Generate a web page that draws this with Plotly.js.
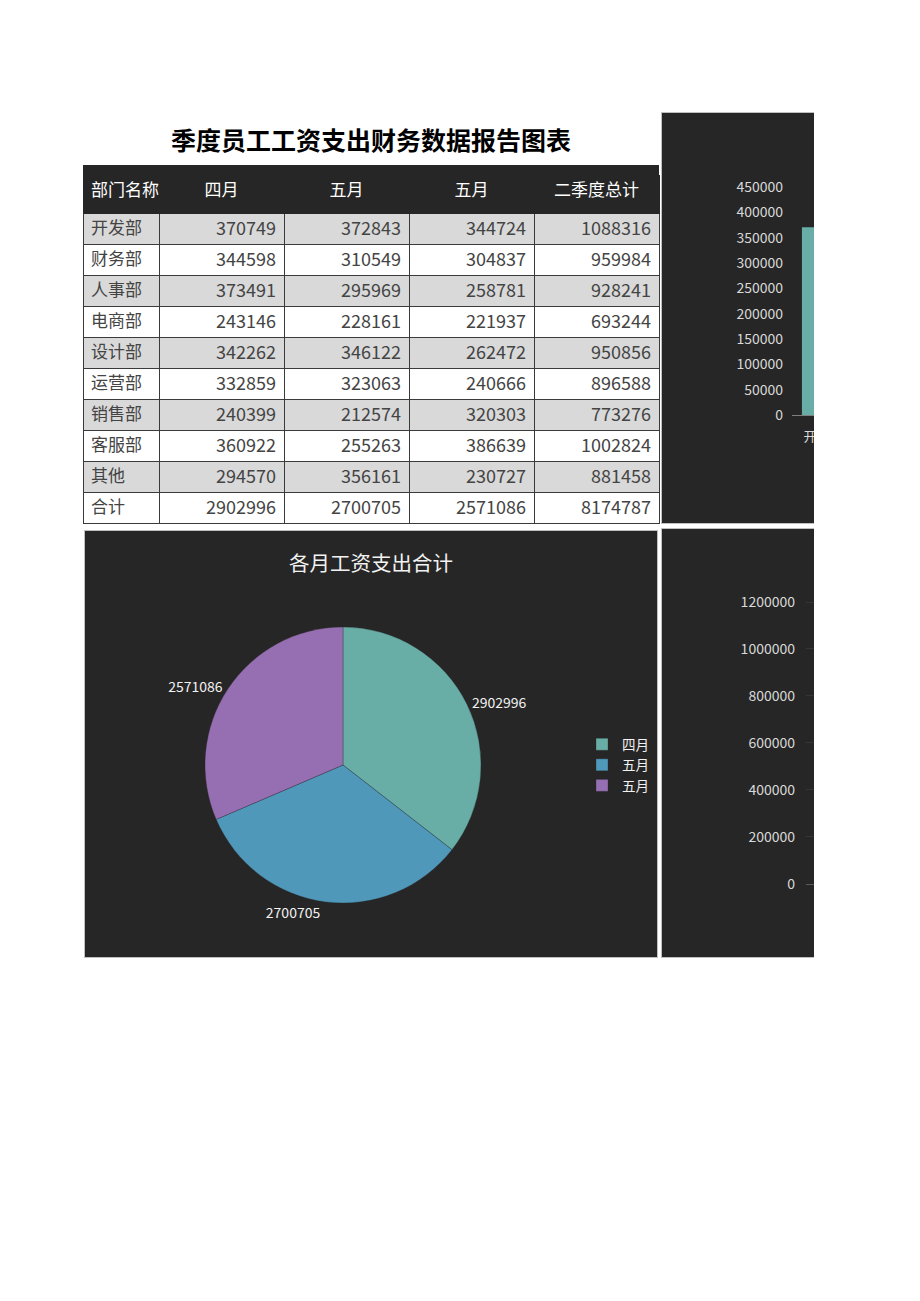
<!DOCTYPE html>
<html>
<head>
<meta charset="utf-8">
<script src="https://cdn.plot.ly/plotly-3.0.1.min.js"></script>
<style>
  html, body { margin: 0; padding: 0; background: #ffffff; }
  #chart { width: 920px; height: 1301px; }
</style>
</head>
<body>
<div id="chart"></div>
<script>
// ---------- data ----------
var departments = ['开发部', '财务部', '人事部', '电商部', '设计部', '运营部', '销售部', '客服部', '其他'];
var totalLabel = '合计';
var headerLabels = ['部门名称', '四月', '五月', '五月', '二季度总计'];
var monthNames = ['四月', '五月', '五月'];
var aprilValues = [370749, 344598, 373491, 243146, 342262, 332859, 240399, 360922, 294570];
var may1Values  = [372843, 310549, 295969, 228161, 346122, 323063, 212574, 255263, 356161];
var may2Values  = [344724, 304837, 258781, 221937, 262472, 240666, 320303, 386639, 230727];
var quarterTotals = [1088316, 959984, 928241, 693244, 950856, 896588, 773276, 1002824, 881458];
var monthTotals = [2902996, 2700705, 2571086];
var grandTotal = 8174787;

var mainTitle = '季度员工工资支出财务数据报告图表';
var pieTitle = '各月工资支出合计';

// ---------- helpers ----------
var W = 920, H = 1301;
function fx(p) { return p / W; }
function fy(p) { return 1 - p / H; }

var FONT = '"Noto Sans CJK SC", "Noto Sans", sans-serif';
var teal = '#69aea6', blue = '#4f98ba', purple = '#966eb2';
var panel = '#262626';
var tickColor = '#d9d9d9';

// ---------- table ----------
var rowCount = departments.length + 1;
var rowFill = [];
for (var i = 0; i < rowCount; i++) rowFill.push(i % 2 === 0 ? '#d9d9d9' : '#ffffff');
var fillCols = [rowFill, rowFill, rowFill, rowFill, rowFill];

var tableTrace = {
  type: 'table',
  domain: { x: [fx(83), fx(659)], y: [fy(524), fy(175)] },
  columnwidth: [76, 125, 125, 125, 125],
  header: {
    values: headerLabels,
    height: 38,
    align: ['left', 'center', 'center', 'center', 'center'],
    fill: { color: panel },
    line: { color: panel, width: 1 },
    font: { family: FONT, size: 17, color: '#ffffff' }
  },
  cells: {
    values: [
      departments.concat([totalLabel]),
      aprilValues.concat([monthTotals[0]]),
      may1Values.concat([monthTotals[1]]),
      may2Values.concat([monthTotals[2]]),
      quarterTotals.concat([grandTotal])
    ],
    height: 31,
    align: ['left', 'right', 'right', 'right', 'right'],
    fill: { color: fillCols },
    line: { color: '#3a3a3a', width: 1 },
    font: { family: FONT, size: [17, 18, 18, 18, 18], color: '#444444' },
    format: ['', 'd', 'd', 'd', 'd']
  }
};

// ---------- bar chart 1 (monthly by department) ----------
var barA = { type: 'bar', name: monthNames[0], x: departments, y: aprilValues, marker: { color: teal }, xaxis: 'x', yaxis: 'y', showlegend: false, hoverinfo: 'skip' };
var barB = { type: 'bar', name: monthNames[1], x: departments, y: may1Values, marker: { color: blue }, xaxis: 'x', yaxis: 'y', showlegend: false, hoverinfo: 'skip' };
var barC = { type: 'bar', name: monthNames[2], x: departments, y: may2Values, marker: { color: purple }, xaxis: 'x', yaxis: 'y', showlegend: false, hoverinfo: 'skip' };

// ---------- bar chart 2 (quarter totals) ----------
var barQ = { type: 'bar', name: headerLabels[4], x: departments, y: quarterTotals, marker: { color: teal }, xaxis: 'x2', yaxis: 'y2', showlegend: false, hoverinfo: 'skip' };

// ---------- pie ----------
var pieLabels = monthNames.map(function (m, i) { return m + ' '.repeat(i); });
var pieTrace = {
  type: 'pie',
  labels: pieLabels,
  values: monthTotals,
  text: monthTotals.map(function (v) { return String(v); }),
  textinfo: 'text',
  textposition: 'outside',
  outsidetextfont: { family: FONT, size: 14, color: '#f2f2f2' },
  sort: false,
  direction: 'clockwise',
  rotation: 0,
  marker: { colors: [teal, blue, purple], line: { color: 'rgba(38,38,38,0.5)', width: 0.6 } },
  domain: { x: [fx(205), fx(481)], y: [fy(903), fy(627)] },
  hoverinfo: 'skip',
  showlegend: true
};

// category width = 62px
var catW = 62;
var layout = {
  width: W, height: H,
  margin: { l: 0, r: 0, t: 0, b: 0, pad: 0 },
  paper_bgcolor: '#ffffff',
  plot_bgcolor: 'rgba(0,0,0,0)',
  font: { family: FONT },
  barmode: 'group',
  bargap: 0.32,
  bargroupgap: 0,
  xaxis: {
    domain: [fx(792), 1], anchor: 'y', type: 'category',
    range: [-0.5, (W - 792) / catW - 0.5],
    showline: true, linecolor: '#808080', linewidth: 1,
    showgrid: false, zeroline: false, ticks: '',
    ticklabelstandoff: 9,
    tickfont: { family: FONT, size: 13, color: tickColor }, fixedrange: true
  },
  yaxis: {
    domain: [fy(415), fy(415 - 452000 / 50000 * 25.333)], anchor: 'x',
    range: [0, 452000], dtick: 50000, tick0: 0, tickformat: 'd',
    showline: false, showgrid: false, zeroline: false, ticks: '',
    ticklabelstandoff: 8,
    tickfont: { family: FONT, size: 14, color: tickColor }, fixedrange: true
  },
  xaxis2: {
    domain: [fx(806), 1], anchor: 'y2', type: 'category',
    range: [-0.5, (W - 806) / catW - 0.5],
    showline: true, linecolor: '#5a5a5a', linewidth: 1,
    showgrid: false, zeroline: false, ticks: '',
    tickfont: { family: FONT, size: 13, color: tickColor }, fixedrange: true
  },
  yaxis2: {
    domain: [fy(884), fy(884 - 1205000 / 200000 * 47)], anchor: 'x2',
    range: [0, 1205000], dtick: 200000, tick0: 0, tickformat: 'd',
    showline: false, showgrid: true, gridcolor: '#363636', gridwidth: 1, zeroline: false, ticks: '',
    ticklabelstandoff: 10,
    tickfont: { family: FONT, size: 14, color: tickColor }, fixedrange: true
  },
  legend: {
    x: fx(582), y: fy(729), xanchor: 'left', yanchor: 'top',
    bgcolor: 'rgba(0,0,0,0)', borderwidth: 0,
    font: { family: FONT, size: 13.5, color: '#f2f2f2' },
    itemwidth: 30, traceorder: 'normal'
  },
  shapes: [
    // dark panels
    { type: 'rect', xref: 'paper', yref: 'paper', layer: 'below', x0: fx(661.5), x1: fx(930), y0: fy(523.5), y1: fy(112.5), fillcolor: panel, line: { color: '#bfbfbf', width: 1 } },
    { type: 'rect', xref: 'paper', yref: 'paper', layer: 'below', x0: fx(661.5), x1: fx(930), y0: fy(957.5), y1: fy(528.5), fillcolor: panel, line: { color: '#bfbfbf', width: 1 } },
    { type: 'rect', xref: 'paper', yref: 'paper', layer: 'below', x0: fx(84.5), x1: fx(657.5), y0: fy(957.5), y1: fy(530.5), fillcolor: panel, line: { color: '#bfbfbf', width: 1 } },
    // header top strip
    { type: 'rect', xref: 'paper', yref: 'paper', layer: 'below', x0: fx(83), x1: fx(659), y0: fy(176), y1: fy(165), fillcolor: panel, line: { width: 0 } },
    // page cut on the right
    { type: 'rect', xref: 'paper', yref: 'paper', layer: 'above', x0: fx(814), x1: fx(925), y0: -0.01, y1: 1.01, fillcolor: '#ffffff', line: { width: 0 } }
  ],
  annotations: [
    { text: '<b>' + mainTitle + '</b>', xref: 'paper', yref: 'paper', x: fx(371), y: fy(139), xanchor: 'center', yanchor: 'middle', showarrow: false, font: { family: FONT, size: 25, color: '#000000' } },
    { text: pieTitle, xref: 'paper', yref: 'paper', x: fx(371), y: fy(562), xanchor: 'center', yanchor: 'middle', showarrow: false, font: { family: FONT, size: 20.5, color: '#f2f2f2' } }
  ]
};

Plotly.newPlot('chart', [tableTrace, barA, barB, barC, barQ, pieTrace], layout, { staticPlot: true, displayModeBar: false });
</script>
</body>
</html>
